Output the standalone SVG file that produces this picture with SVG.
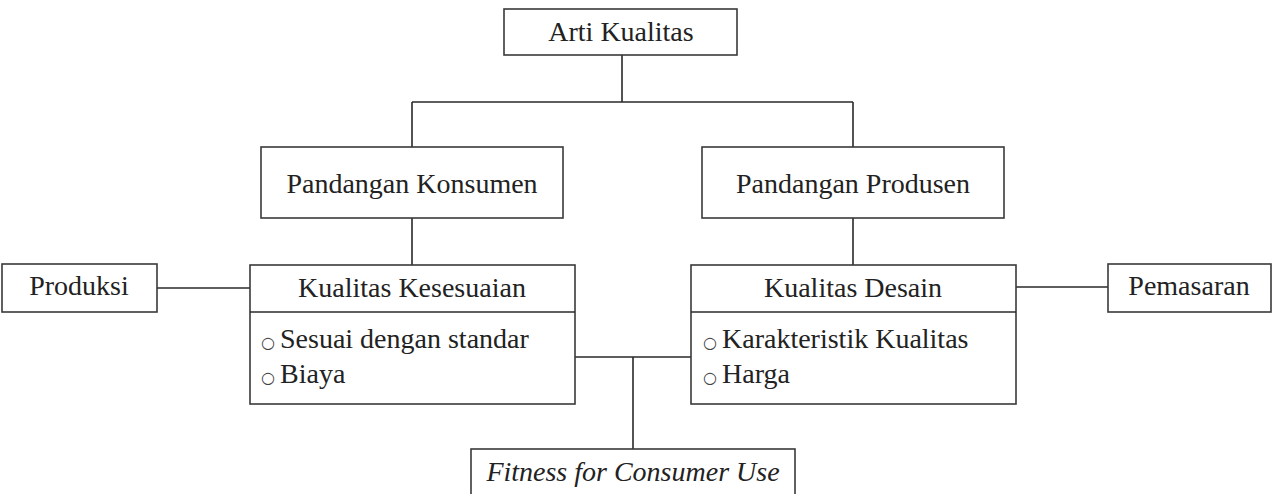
<svg xmlns="http://www.w3.org/2000/svg" width="1276" height="494" viewBox="0 0 1276 494">
<style>
.box{fill:#fff;stroke:#3a3a3a;stroke-width:1.6}
.ln{fill:none;stroke:#2a2a2a;stroke-width:1.6}
.t{font-family:"Liberation Serif","Times New Roman",Tinos,"DejaVu Serif",serif;font-size:28px;fill:#222}
.c{text-anchor:middle}
.b{font-family:"DejaVu Sans",sans-serif;font-size:16px;fill:#444}
</style>
<rect width="1276" height="494" fill="#fff"/>
<g id="connectors">
<path class="ln" d="M622,55V102M412,102H853M412,102V147M853,102V147"/>
<path class="ln" d="M412,218V265M853,218V265"/>
<path class="ln" d="M157,288H250M1016,287H1108"/>
<path class="ln" d="M575,357H691M633,357V449"/>
</g>
<g id="arti"><rect class="box" x="504" y="9" width="233" height="46"/><text class="t c" x="621" y="41">Arti Kualitas</text></g>
<g id="konsumen"><rect class="box" x="261" y="147" width="302" height="71"/><text class="t c" x="412" y="193">Pandangan Konsumen</text></g>
<g id="produsen"><rect class="box" x="702" y="147" width="302" height="71"/><text class="t c" x="853" y="193">Pandangan Produsen</text></g>
<g id="kesesuaian"><rect class="box" x="250" y="265" width="325" height="139"/><path class="ln" d="M250,312H575"/><text class="t c" x="412" y="297">Kualitas Kesesuaian</text>
<text class="t" x="261" y="348"><tspan class="b">○</tspan><tspan x="280">Sesuai dengan standar</tspan></text>
<text class="t" x="261" y="383"><tspan class="b">○</tspan><tspan x="280">Biaya</tspan></text></g>
<g id="desain"><rect class="box" x="691" y="265" width="325" height="139"/><path class="ln" d="M691,312H1016"/><text class="t c" x="853" y="297">Kualitas Desain</text>
<text class="t" x="703" y="348"><tspan class="b">○</tspan><tspan x="722">Karakteristik Kualitas</tspan></text>
<text class="t" x="703" y="383"><tspan class="b">○</tspan><tspan x="722">Harga</tspan></text></g>
<g id="produksi"><rect class="box" x="2" y="264" width="155" height="48"/><text class="t c" x="79" y="295">Produksi</text></g>
<g id="pemasaran"><rect class="box" x="1108" y="264" width="163" height="48"/><text class="t c" x="1189" y="295">Pemasaran</text></g>
<g id="fitness"><rect class="box" x="471" y="449" width="324" height="60"/><text class="t c" x="633" y="481" font-style="italic">Fitness for Consumer Use</text></g>
</svg>
